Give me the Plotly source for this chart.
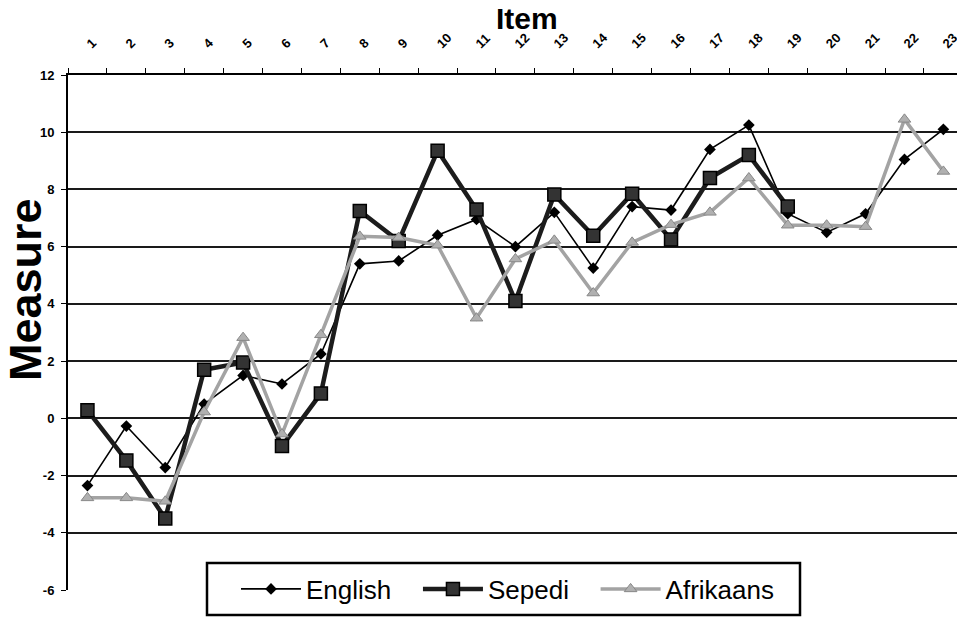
import plotly.graph_objects as go

items = [str(i) for i in range(1, 24)]
english = [-2.35, -0.27, -1.72, 0.5, 1.5, 1.2, 2.25, 5.4, 5.5, 6.4, 6.95, 6.0,
           7.2, 5.25, 7.4, 7.28, 9.4, 10.25, 7.15, 6.5, 7.15, 9.05, 10.1]
sepedi = [0.28, -1.47, -3.5, 1.7, 1.95, -0.97, 0.87, 7.25, 6.2, 9.35, 7.3, 4.1,
          7.82, 6.38, 7.85, 6.25, 8.4, 9.2, 7.4, None, None, None, None]
afrikaans = [-2.78, -2.78, -2.9, 0.22, 2.82, -0.55, 2.92, 6.36, 6.32, 6.05, 3.5, 5.57,
             6.22, 4.38, 6.15, 6.77, 7.2, 8.4, 6.75, 6.75, 6.7, 10.45, 8.63]
y_ticks = list(range(-6, 13, 2))
y_tick_text = [str(v) for v in y_ticks]
series_names = ["English", "Sepedi", "Afrikaans"]

FONT = "Liberation Sans, Arial, sans-serif"
NB = "\u00a0"

fig = go.Figure()
fig.add_trace(go.Scatter(
    x=items, y=english, name=series_names[0] + NB * 3, mode="lines+markers",
    line=dict(color="#000000", width=1.6),
    marker=dict(symbol="diamond", size=9, color="#000000"),
))
fig.add_trace(go.Scatter(
    x=items, y=sepedi, name=series_names[1] + NB * 3, mode="lines+markers",
    line=dict(color="#1c1c1c", width=4.5),
    marker=dict(symbol="square", size=13, color="#333333",
                line=dict(color="#000000", width=1.5)),
))
fig.add_trace(go.Scatter(
    x=items, y=afrikaans, name=series_names[2], mode="lines+markers",
    line=dict(color="#a3a3a3", width=3.5),
    marker=dict(symbol="triangle-up", size=11, color="#b0b0b0",
                line=dict(color="#888888", width=1)),
))

PL, PR, PT, PB = 68, 957, 75, 590
pw, ph = PR - PL, PB - PT


def px_x(x):
    return (x - PL) / pw


def px_y(y):
    return (PB - y) / ph


fig.update_layout(
    width=957, height=618,
    margin=dict(l=PL, r=957 - PR, t=PT, b=618 - PB),
    paper_bgcolor="white", plot_bgcolor="white",
    font=dict(family=FONT, color="#000000"),
    showlegend=True,
    legend=dict(
        orientation="h",
        x=px_x(236), xanchor="left",
        y=px_y(589), yanchor="middle",
        bgcolor="rgba(0,0,0,0)", borderwidth=0,
        font=dict(family=FONT, size=26, color="#000000"),
        itemwidth=60, itemsizing="trace",
        traceorder="normal",
    ),
    xaxis=dict(
        type="category", side="top",
        range=[-0.5, 22.35],
        tickson="boundaries",
        ticks="outside", ticklen=5, tickcolor="#000000", tickwidth=1.2,
        showline=True, linecolor="#000000", linewidth=2,
        showgrid=False, zeroline=False,
        tickangle=-45,
        tickfont=dict(family=FONT, size=13, color="#000000", weight="bold"),
        ticklabelstandoff=17,
        automargin=False,
    ),
    yaxis=dict(
        range=[-6, 12],
        tickvals=y_ticks, ticktext=y_tick_text,
        ticks="outside", ticklen=5, tickcolor="#000000", tickwidth=1.2,
        showline=True, linecolor="#000000", linewidth=2,
        showgrid=True, gridcolor="#1a1a1a", gridwidth=1.6,
        zeroline=False,
        tickfont=dict(family=FONT, size=13, color="#000000", weight="bold"),
        ticklabelstandoff=4,
        automargin=False,
    ),
    shapes=[
        dict(type="rect", xref="paper", yref="paper", layer="above",
             x0=px_x(207), x1=px_x(800), y0=px_y(615), y1=px_y(563),
             fillcolor="white", line=dict(color="#000000", width=2.5)),
    ],
    annotations=[
        dict(text="<b>Item</b>", xref="paper", yref="paper",
             x=px_x(527), y=px_y(19), xanchor="center", yanchor="middle",
             showarrow=False, font=dict(family=FONT, size=30, color="#000000")),
        dict(text="<b>Measure</b>", xref="paper", yref="paper",
             x=px_x(25), y=px_y(290), xanchor="center", yanchor="middle",
             textangle=-90,
             showarrow=False, font=dict(family=FONT, size=45, color="#000000")),
    ],
)

fig.write_html(
    "out.html",
    config={"displayModeBar": False},
    post_script="document.body.style.margin='0';document.body.style.overflow='hidden';",
)
